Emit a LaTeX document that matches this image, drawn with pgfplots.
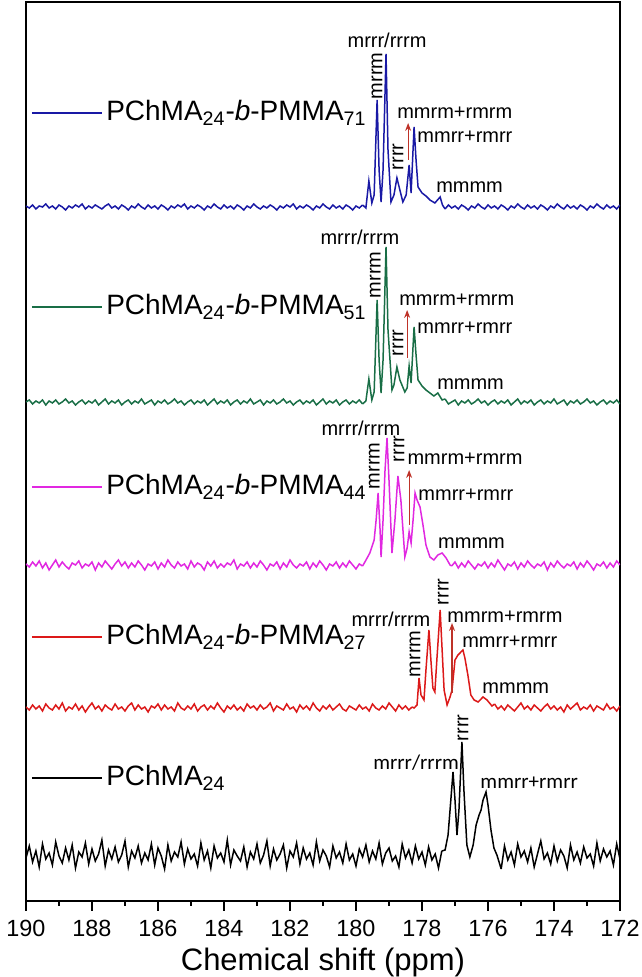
\documentclass[border=0pt]{standalone}
\usepackage{pgfplots}
\pgfplotsset{compat=1.18}
\usepackage{pgfplotstable}
\usepackage{fontspec}
\setmainfont{Liberation Sans}
\newfontfamily\carlito{Carlito}
\usetikzlibrary{arrows.meta}
\definecolor{cblue}{RGB}{25,25,165}
\definecolor{cgreen}{RGB}{25,110,70}
\definecolor{cmag}{RGB}{225,40,225}
\definecolor{cred}{RGB}{220,25,25}
\definecolor{carrow}{RGB}{190,50,40}
\tikzset{
  lbl/.style={font=\fontsize{10}{12}\selectfont, inner sep=0pt},
  leg/.style={font=\fontsize{14}{16}\selectfont, inner sep=0pt, anchor=west},
  arr/.style={carrow, line width=0.6pt, -{Stealth[length=4pt,width=3pt]}},
}

\pgfplotstableread{
x k r m g b
190.0 48 199 342 504 700
189.9 60 196 339 506 698
189.8 44 201 344 502 701
189.7 55 197 340 505 697
189.6 39 200 345 503 700
189.5 62 195 338 506 699
189.4 47 202 343 501 702
189.3 53 198 336 505 698
189.2 41 196 341 503 700
189.1 64 201 346 506 697
189.0 50 197 339 502 701
188.9 43 203 344 504 699
188.8 58 195 340 507 696
188.7 46 199 337 503 700
188.6 61 197 343 505 698
188.5 38 202 341 501 701
188.4 54 196 345 504 699
188.3 49 200 338 506 702
188.2 63 194 342 502 697
188.1 42 199 340 505 700
188.0 57 203 344 503 698
187.9 45 197 336 506 701
187.8 52 200 343 501 699
187.7 66 195 339 504 697
187.6 40 201 345 507 700
187.5 56 198 341 502 702
187.4 47 196 337 505 698
187.3 59 202 342 503 700
187.2 44 197 346 506 697
187.1 51 199 340 501 701
187.0 65 195 344 504 699
186.9 39 200 338 506 696
186.8 55 203 343 502 700
186.7 48 196 339 505 698
186.6 60 201 345 503 702
186.5 43 197 341 507 699
186.4 53 199 336 502 697
186.3 46 194 342 504 701
186.2 62 200 340 506 698
186.1 41 198 344 501 700
186.0 58 202 337 505 697
185.9 50 196 343 503 701
185.8 37 201 339 506 699
185.7 61 197 346 502 696
185.6 45 199 341 504 700
185.5 54 195 338 507 698
185.4 49 203 344 503 701
185.3 64 198 340 505 699
185.2 42 196 342 501 702
185.1 57 200 337 504 697
185.0 47 197 345 506 700
184.9 52 202 339 502 698
184.8 40 195 343 505 701
184.7 63 199 341 503 699
184.6 46 201 336 506 696
184.5 55 196 344 501 700
184.4 38 200 340 504 698
184.3 60 197 345 507 702
184.2 48 203 338 502 699
184.1 53 198 342 505 697
184.0 44 194 339 503 701
183.9 66 200 343 506 698
183.8 41 197 341 501 700
183.7 56 201 346 504 697
183.6 50 196 337 506 701
183.5 45 199 342 502 699
183.4 59 195 340 505 696
183.3 39 202 344 503 700
183.2 54 198 338 507 698
183.1 47 200 343 502 702
183.0 62 196 339 504 699
182.9 43 201 345 506 697
182.8 51 197 341 501 700
182.7 65 199 336 505 698
182.6 40 203 342 503 701
182.5 57 195 340 506 699
182.4 46 200 344 502 696
182.3 52 198 337 504 700
182.2 61 196 343 507 698
182.1 38 202 339 503 701
182.0 55 197 346 505 699
181.9 49 199 341 501 702
181.8 63 194 338 504 697
181.7 42 201 342 506 700
181.6 58 197 340 502 698
181.5 47 200 344 505 701
181.4 53 196 337 503 699
181.3 41 203 343 506 696
181.2 64 198 339 501 700
181.1 45 195 345 504 698
181.0 56 200 341 507 702
180.9 50 197 336 502 699
180.8 39 201 342 505 697
180.7 60 196 340 503 701
180.6 48 199 344 506 698
180.5 54 202 338 501 700
180.4 43 197 343 504 697
180.3 62 195 339 506 701
180.2 46 200 345 502 699
180.1 52 198 341 505 696
180.0 40 196 337 503 700
179.9 57 201 342 506 698
179.8 49 197 340 502 701
179.7 61 199 344 504 699
179.6 44 195 338 507 702
179.5 55 202 343 503 697
179.4 47 198 339 505 700
179.3 63 196 345 501 698
179.2 42 200 341 504 701
179.1 53 197 336 506 699
179.0 58 203 342 502 696
178.9 45 199 340 505 700
178.8 50 195 344 503 698
178.7 39 201 337 506 702
178.6 62 197 343 501 699
178.5 48 200 339 504 697
178.4 56 196 345 507 701
178.3 43 199 341 502 698
178.2 60 202 338 505 700
178.1 47 197 342 503 697
178.0 54 195 340 506 701
177.9 41 200 344 501 699
177.8 59 198 337 504 696
177.7 46 196 343 506 700
177.6 52 201 339 502 698
177.5 38 197 345 505 702
177.4 55 199 341 503 699
177.3 49 195 336 507 697
177.2 61 202 342 502 701
177.1 44 198 340 504 698
177.0 57 196 344 506 700
176.9 50 200 338 501 697
176.8 42 197 343 505 701
176.7 63 201 339 503 699
176.6 47 195 345 506 696
176.5 53 199 341 502 700
176.4 40 203 337 504 698
176.3 58 196 342 507 702
176.2 45 200 340 503 699
176.1 51 197 344 505 697
176.0 64 194 338 501 701
175.9 43 199 343 504 698
175.8 56 202 339 506 700
175.7 48 197 346 502 697
175.6 37 200 341 505 701
175.5 60 196 336 503 699
175.4 46 201 342 506 696
175.3 54 198 340 501 700
175.2 41 195 344 504 698
175.1 62 199 337 507 702
175.0 49 203 343 502 699
174.9 55 197 339 505 697
174.8 44 200 345 503 701
174.7 58 196 341 506 698
174.6 39 201 338 501 700
174.5 52 198 342 504 697
174.4 65 195 340 506 701
174.3 47 199 344 502 699
174.2 53 202 336 505 696
174.1 42 197 343 503 700
174.0 60 200 339 507 698
173.9 45 196 345 502 702
173.8 56 199 341 504 699
173.7 50 194 338 506 697
173.6 38 201 342 501 701
173.5 61 197 340 505 698
173.4 46 200 344 503 700
173.3 54 203 337 506 697
173.2 43 196 343 502 701
173.1 59 199 339 504 699
173.0 48 197 345 507 696
172.9 52 201 341 503 700
172.8 40 195 336 505 698
172.7 63 200 342 501 702
172.6 45 198 340 504 699
172.5 57 196 344 506 697
172.4 49 202 338 502 701
172.3 55 197 343 505 698
172.2 41 199 339 503 700
172.1 62 195 345 506 697
172.0 47 200 341 502 701
}\spec

\begin{document}
\begin{tikzpicture}
\begin{axis}[
  scale only axis, width=297pt, height=449.5pt,
  xmin=172, xmax=190, x dir=reverse,
  ymin=5, ymax=904,
  ytick=\empty,
  xtick={172,174,...,190}, minor x tick num=1,
  tick align=outside, xtick pos=left,
  major tick length=5pt, minor tick length=2.5pt,
  axis line style={line width=1pt},
  every tick/.style={line width=0.8pt, black},
  tick label style={font=\fontsize{11.7}{14}\selectfont},
  xticklabel style={yshift=-1pt},
  /pgf/number format/assume math mode=true,
  xlabel={Chemical shift (ppm)},
  xlabel style={font=\fontsize{15.5}{18}\selectfont, yshift=1pt},
  every axis plot/.append style={line width=0.75pt},
]
\coordinate (bl) at (rel axis cs:0,0);
\coordinate (tr) at (rel axis cs:1,1);

% ---------- blue ----------
\addplot[cblue, restrict x to domain=179.79:190] table[x=x,y=b]{\spec};
\addplot[cblue] coordinates {(179.8,701)(179.70,698)(179.61,725)(179.52,703)(179.45,711)(179.36,806)(179.30,736)(179.24,704)(179.18,736)(179.09,852)(179.03,756)(178.94,704)(178.85,711)(178.76,728)(178.67,716)(178.58,704)(178.48,711)(178.39,741)(178.33,713)(178.24,779)(178.18,746)(178.12,719)(178.00,713)(177.88,710)(177.76,706)(177.61,703)(177.45,709)(177.38,701)(177.3,697)};
\addplot[cblue, restrict x to domain=172:177.31] table[x=x,y=b]{\spec};

% ---------- green ----------
\addplot[cgreen, restrict x to domain=179.79:190] table[x=x,y=g]{\spec};
\addplot[cgreen] coordinates {(179.8,502)(179.70,505)(179.61,527)(179.52,506)(179.45,514)(179.36,606)(179.30,546)(179.24,513)(179.18,546)(179.09,659)(179.03,576)(178.91,516)(178.85,521)(178.76,539)(178.67,526)(178.52,514)(178.45,518)(178.39,540)(178.33,523)(178.24,579)(178.18,551)(178.12,526)(178.00,520)(177.88,516)(177.76,513)(177.64,510)(177.52,513)(177.39,506)(177.3,507)};
\addplot[cgreen, restrict x to domain=172:177.31] table[x=x,y=g]{\spec};

% ---------- magenta ----------
\addplot[cmag, restrict x to domain=179.79:190] table[x=x,y=m]{\spec};
\addplot[cmag] coordinates {(179.8,340)(179.73,344)(179.58,353)(179.45,366)(179.39,386)(179.33,413)(179.27,376)(179.24,349)(179.18,386)(179.12,436)(179.06,468)(179.00,426)(178.91,353)(178.82,386)(178.73,430)(178.64,406)(178.52,349)(178.45,358)(178.39,374)(178.33,363)(178.27,386)(178.21,413)(178.15,406)(178.06,399)(177.97,381)(177.88,361)(177.76,349)(177.64,346)(177.52,351)(177.39,353)(177.27,348)(177.15,341)(177.1,340)};
\addplot[cmag, restrict x to domain=172:177.11] table[x=x,y=m]{\spec};

% ---------- red ----------
\addplot[cred, restrict x to domain=178.29:190] table[x=x,y=r]{\spec};
\addplot[cred] coordinates {(178.3,199)(178.24,198)(178.15,201)(178.09,228)(178.03,211)(177.94,206)(177.88,236)(177.79,276)(177.73,246)(177.67,218)(177.61,214)(177.55,246)(177.45,296)(177.39,256)(177.33,216)(177.24,201)(177.15,209)(177.09,216)(177.00,246)(176.91,251)(176.82,254)(176.76,256)(176.70,248)(176.61,231)(176.52,211)(176.42,206)(176.30,204)(176.15,209)(176.03,206)(175.88,200)(175.8,202)};
\addplot[cred, restrict x to domain=172:175.81] table[x=x,y=r]{\spec};

% ---------- black ----------
\addplot[black, restrict x to domain=177.39:190] table[x=x,y=k]{\spec};
\addplot[black] coordinates {(177.4,55)(177.30,56)(177.21,71)(177.15,96)(177.06,134)(177.00,106)(176.94,71)(176.88,96)(176.79,164)(176.73,116)(176.64,61)(176.55,49)(176.45,61)(176.36,81)(176.27,91)(176.21,96)(176.15,106)(176.06,114)(176.00,101)(175.91,76)(175.82,58)(175.73,51)(175.6,37)};
\addplot[black, restrict x to domain=172:175.61] table[x=x,y=k]{\spec};

% ---------- trace labels ----------
\draw[cblue, line width=0.8pt] (axis cs:189.82,793) -- (axis cs:187.70,793);
\node[leg] at (axis cs:187.58,793) {PChMA\textsubscript{24}-\textit{b}-PMMA\textsubscript{71}};
\draw[cgreen, line width=0.8pt] (axis cs:189.82,599) -- (axis cs:187.70,599);
\node[leg] at (axis cs:187.58,599) {PChMA\textsubscript{24}-\textit{b}-PMMA\textsubscript{51}};
\draw[cmag, line width=0.8pt] (axis cs:189.82,419) -- (axis cs:187.70,419);
\node[leg] at (axis cs:187.58,419) {PChMA\textsubscript{24}-\textit{b}-PMMA\textsubscript{44}};
\draw[cred, line width=0.8pt] (axis cs:189.82,269) -- (axis cs:187.70,269);
\node[leg] at (axis cs:187.58,269) {PChMA\textsubscript{24}-\textit{b}-PMMA\textsubscript{27}};
\draw[black, line width=0.8pt] (axis cs:189.82,128) -- (axis cs:187.70,128);
\node[leg] at (axis cs:187.58,128) {PChMA\textsubscript{24}};

% ---------- peak labels: blue ----------
\node[lbl] at (axis cs:179.06,866) {mrrr/rrrm};
\node[lbl, rotate=90] at (axis cs:179.36,830) {mrrm};
\node[lbl, rotate=90] at (axis cs:178.73,749) {rrrr};
\node[lbl, anchor=west] at (axis cs:178.76,793) {mmrm+rmrm};
\node[lbl, anchor=west] at (axis cs:178.15,769) {mmrr+rmrr};
\node[lbl, anchor=west] at (axis cs:177.58,719) {mmmm};
\draw[arr] (axis cs:178.42,746) -- (axis cs:178.42,783);

% ---------- peak labels: green ----------
\node[lbl] at (axis cs:179.88,669) {mrrr/rrrm};
\node[lbl, rotate=90] at (axis cs:179.42,631) {mrrm};
\node[lbl, rotate=90] at (axis cs:178.73,563) {rrrr};
\node[lbl, anchor=west] at (axis cs:178.70,606) {mmrm+rmrm};
\node[lbl, anchor=west] at (axis cs:178.15,578) {mmrr+rmrr};
\node[lbl, anchor=west] at (axis cs:177.55,522) {mmmm};
\draw[arr] (axis cs:178.45,548) -- (axis cs:178.45,596);

% ---------- peak labels: magenta ----------
\node[lbl] at (axis cs:179.85,478) {mrrr/rrrm};
\node[lbl, rotate=90] at (axis cs:179.45,440) {mrrm};
\node[lbl, rotate=90] at (axis cs:178.70,457) {rrrr};
\node[lbl, anchor=west] at (axis cs:178.45,447) {mmrm+rmrm};
\node[lbl, anchor=west] at (axis cs:178.12,411) {mmrr+rmrr};
\node[lbl, anchor=west] at (axis cs:177.52,363) {mmmm};
\draw[arr] (axis cs:178.39,381) -- (axis cs:178.39,436);

% ---------- peak labels: red ----------
\node[lbl] at (axis cs:178.94,287) {mrrr/rrrm};
\node[lbl, rotate=90] at (axis cs:178.21,252) {mrrm};
\node[lbl, rotate=90] at (axis cs:177.36,314) {rrrr};
\node[lbl, anchor=west] at (axis cs:177.24,289) {mmrm+rmrm};
\node[lbl, anchor=west] at (axis cs:176.79,264) {mmrr+rmrr};
\node[lbl, anchor=west] at (axis cs:176.18,218) {mmmm};
\draw[arr] (axis cs:177.09,213) -- (axis cs:177.09,283);

% ---------- peak labels: black ----------
\node[lbl, font=\carlito\fontsize{10.5}{12}\selectfont] at (axis cs:178.18,143) {mrrr/rrrm};
\node[lbl, rotate=90] at (axis cs:176.76,178) {rrrr};
\node[lbl, anchor=west, font=\carlito\fontsize{10.5}{12}\selectfont] at (axis cs:176.24,123) {mmrr+rmrr};
\end{axis}
\pgfresetboundingbox
\path ([shift={(-13pt,-38pt)}]bl) rectangle ([shift={(10.5pt,1pt)}]tr);
\end{tikzpicture}
\end{document}
